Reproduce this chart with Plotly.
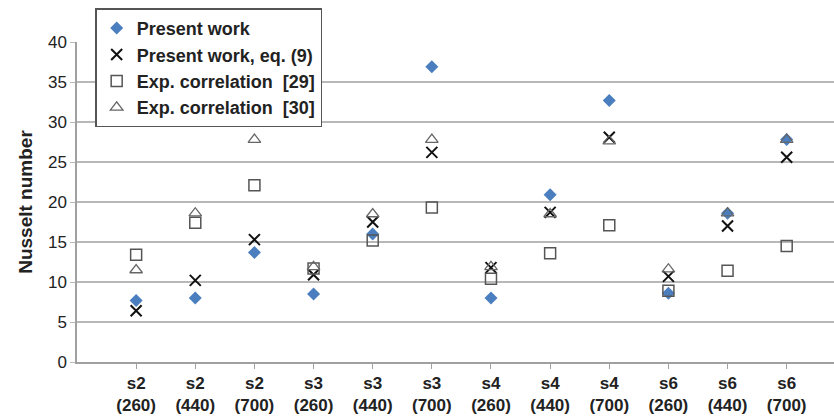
import plotly.graph_objects as go

categories = ["s2<br>(260)", "s2<br>(440)", "s2<br>(700)",
              "s3<br>(260)", "s3<br>(440)", "s3<br>(700)",
              "s4<br>(260)", "s4<br>(440)", "s4<br>(700)",
              "s6<br>(260)", "s6<br>(440)", "s6<br>(700)"]
present_work = [7.7, 8.0, 13.7, 8.5, 16.0, 36.9, 8.0, 20.9, 32.7, 8.6, 18.6, 27.8]
present_eq9 = [6.4, 10.2, 15.3, 10.9, 17.5, 26.2, 11.8, 18.7, 28.1, 10.7, 17.0, 25.6]
exp_corr_29 = [13.4, 17.4, 22.1, 11.7, 15.2, 19.3, 10.4, 13.6, 17.1, 8.9, 11.4, 14.5]
exp_corr_30 = [11.5, 18.6, 27.8, 11.9, 18.5, 27.8, 11.9, 18.5, 27.6, 11.6, 18.6, 27.8]
y_ticks = [0, 5, 10, 15, 20, 25, 30, 35, 40]

x = list(range(len(categories)))
FONT = "Liberation Sans, Arial, sans-serif"

fig = go.Figure()
fig.add_trace(go.Scatter(x=x, y=present_work, mode="markers", name="Present work",
                         marker=dict(symbol="diamond", size=10, color="#4a7ebf",
                                     line=dict(width=0))))
fig.add_trace(go.Scatter(x=x, y=present_eq9, mode="markers", name="Present work, eq. (9)",
                         marker=dict(symbol="x-thin-open", size=11, color="#111111",
                                     line=dict(width=2, color="#111111"))))
fig.add_trace(go.Scatter(x=x, y=exp_corr_29, mode="markers", name="Exp. correlation  [29]",
                         marker=dict(symbol="square-open", size=11, color="#555555",
                                     line=dict(width=1.5, color="#555555"))))
fig.add_trace(go.Scatter(x=x, y=exp_corr_30, mode="markers", name="Exp. correlation  [30]",
                         marker=dict(symbol="triangle-up-open", size=11, color="#666666",
                                     line=dict(width=1.3, color="#666666"))))

fig.update_layout(
    width=834, height=420,
    margin=dict(l=77, r=0, t=42, b=58),
    paper_bgcolor="white", plot_bgcolor="white",
    font=dict(family=FONT, color="#222222"),
    showlegend=True,
    legend=dict(x=0.024, y=1.105, xanchor="left", yanchor="top",
                traceorder="normal",
                bordercolor="#555555", borderwidth=1.5, bgcolor="white",
                font=dict(family=FONT, size=18, color="#222222", weight="bold"),
                itemwidth=30),
    xaxis=dict(
        range=[-1, 11.8],
        tickmode="array", tickvals=x, ticktext=["<b>%s</b>" % c for c in categories],
        tickfont=dict(family=FONT, size=17, color="#222222"),
        showgrid=False, zeroline=False,
        showline=True, linecolor="#a0a0a0", linewidth=1.5,
        ticks="outside", ticklen=5, tickcolor="#a0a0a0",
    ),
    yaxis=dict(
        range=[0, 40], tickmode="array", tickvals=y_ticks,
        tickfont=dict(family=FONT, size=17, color="#222222"),
        showgrid=True, gridcolor="#b8b8b8", gridwidth=1.5,
        zeroline=False, showline=True, linecolor="#a0a0a0", linewidth=1.5,
        ticks="outside", ticklen=5, tickcolor="#b8b8b8",
        title=dict(text="<b>Nusselt number</b>", font=dict(family=FONT, size=19, color="#222222"),
                   standoff=10),
    ),
)

fig.write_html("out.html")
